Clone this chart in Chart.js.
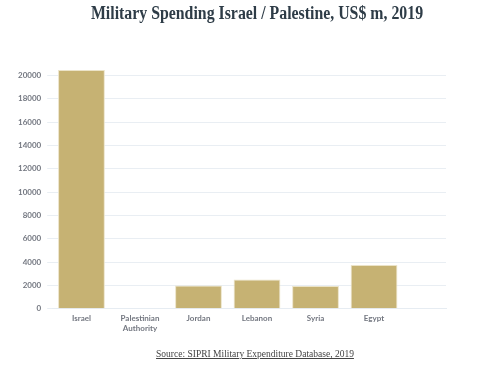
<!DOCTYPE html>
<html>
<head>
<meta charset="utf-8">
<script src="https://cdn.jsdelivr.net/npm/chart.js@4"></script>
<style>
  html, body { margin: 0; padding: 0; background: #fff; }
  #wrap { position: relative; width: 500px; height: 366px; }
  #title {
    position: absolute; left: 0; width: 514px; top: 3px;
    text-align: center; font-family: "Liberation Serif", serif; font-size: 18px;
    font-weight: bold; color: #2e3c47; transform: scaleX(0.88);
  }
  #source {
    position: absolute; left: 0; width: 510px; top: 349px;
    text-align: center; font-family: "Liberation Serif", serif; font-size: 9.5px;
    color: #444; text-decoration: underline;
  }
</style>
</head>
<body>
<div id="wrap">
  <canvas id="myChart"></canvas>
  <div id="title">Military Spending Israel / Palestine, US$ m, 2019</div>
  <div id="source">Source: SIPRI Military Expenditure Database, 2019</div>
</div>
<script>
const categories = ['Israel', ['Palestinian', 'Authority'], 'Jordan', 'Lebanon', 'Syria', 'Egypt'];
const spending = [20465, 0, 2005, 2520, 1955, 3750];
const yTicks = [0, 2000, 4000, 6000, 8000, 10000, 12000, 14000, 16000, 18000, 20000];

const tickFont = { family: 'Lato', size: 8, weight: 'bold' };

const ctx = document.getElementById('myChart');

new Chart(ctx, {
  type: 'bar',
  data: {
    datasets: [{
      label: 'Military spending',
      data: spending.map((v, i) => ({ x: i, y: v })),
      backgroundColor: '#c6b273',
      borderColor: '#ebe3c8',
      borderWidth: 1,
      barPercentage: 1,
      categoryPercentage: 0.8
    }]
  },
  options: {
    responsive: true,
    maintainAspectRatio: false,
    animation: false,
    layout: { padding: { left: 12, right: 54, top: 70, bottom: 28 } },
    plugins: {
      legend: { display: false },
      tooltip: { enabled: false },
      title: { display: false }
    },
    scales: {
      x: {
        type: 'linear',
        offset: false,
        min: -0.5,
        max: 6.23,
        grid: { display: false, drawTicks: false },
        border: { color: '#e6ecf2' },
        afterBuildTicks: s => { s.ticks = categories.map((c, i) => ({ value: i })); },
        ticks: {
          autoSkip: false,
          maxRotation: 0,
          color: '#737780',
          font: tickFont,
          padding: 5,
          callback: v => categories[v]
        }
      },
      y: {
        min: 0,
        max: 20465,
        afterBuildTicks: s => { s.ticks = yTicks.map(v => ({ value: v })); },
        grid: { color: '#e9eef3', tickLength: 5 },
        border: { display: false },
        ticks: { color: '#737780', font: tickFont, padding: 6, callback: v => String(v) }
      }
    }
  }
});
</script>
</body>
</html>
